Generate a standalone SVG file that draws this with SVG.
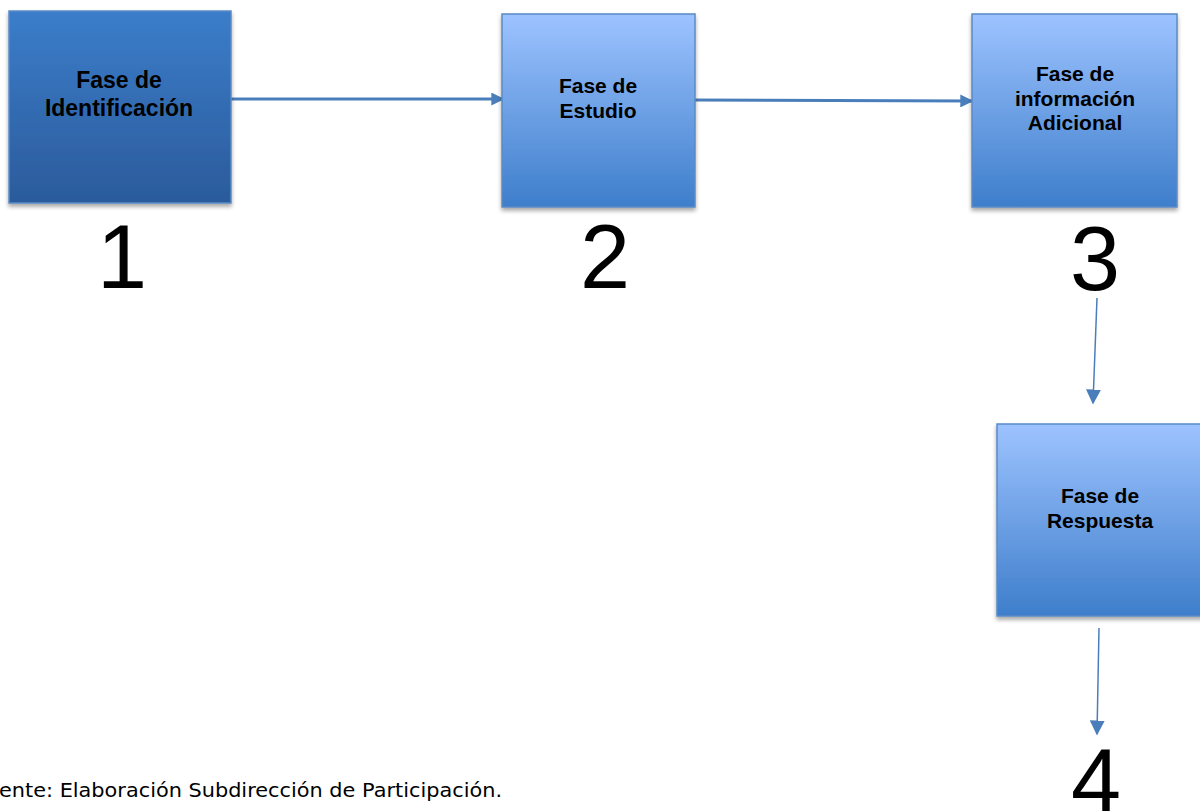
<svg xmlns="http://www.w3.org/2000/svg" width="1200" height="811" viewBox="0 0 1200 811">
<style>
.lbl{font-family:"Liberation Sans",Arial,sans-serif;font-weight:bold;fill:#000;text-anchor:middle}
.num{font-family:"Liberation Sans",Arial,sans-serif;font-size:90px;fill:#000;text-anchor:middle}
.box{stroke:#5a8ac6;stroke-width:1.5}
.thick{stroke:#4a7ebb;stroke-width:3;fill:none}
.thin{stroke:#4a7ebb;stroke-width:1.5;fill:none}
.foot{font-family:"DejaVu Sans","Noto Sans",sans-serif;font-size:19.5px;fill:#000}
</style>
<defs>
<linearGradient id="gDark" x1="0" y1="0" x2="0" y2="1">
<stop offset="0" stop-color="#3b7dca"/>
<stop offset="1" stop-color="#2b5b9b"/>
</linearGradient>
<linearGradient id="gLight" x1="0" y1="0" x2="0" y2="1">
<stop offset="0" stop-color="#9dc3ff"/>
<stop offset="1" stop-color="#3e7ecb"/>
</linearGradient>
<filter id="sh" x="-10%" y="-10%" width="125%" height="125%">
<feGaussianBlur in="SourceAlpha" stdDeviation="2"/>
<feOffset dx="0" dy="3" result="b"/>
<feComponentTransfer><feFuncA type="linear" slope="0.35"/></feComponentTransfer>
<feMerge><feMergeNode/><feMergeNode in="SourceGraphic"/></feMerge>
</filter>
<marker id="ah" viewBox="0 0 10 10" refX="9" refY="5" markerWidth="13" markerHeight="13" markerUnits="userSpaceOnUse" orient="auto">
<path d="M0,0 L10,5 L0,10 z" fill="#4a7ebb"/>
</marker>
<marker id="ah2" viewBox="0 0 10 10" refX="9" refY="5" markerWidth="15" markerHeight="15" markerUnits="userSpaceOnUse" orient="auto">
<path d="M0,0 L10,5 L0,10 z" fill="#4a7ebb"/>
</marker>
</defs>
<rect width="1200" height="811" fill="#fff"/>
<g id="connectors">
<line class="thick" x1="231" y1="99" x2="503" y2="99" marker-end="url(#ah)"/>
<line class="thick" x1="695" y1="100" x2="972" y2="101" marker-end="url(#ah)"/>
<line class="thin" x1="1097" y1="298" x2="1093" y2="403" marker-end="url(#ah2)"/>
<line class="thin" x1="1099" y1="628" x2="1097" y2="734" marker-end="url(#ah2)"/>
</g>
<g id="node1">
<rect class="box" x="9" y="11" width="222" height="192" fill="url(#gDark)" filter="url(#sh)"/>
<text class="lbl" font-size="23" x="119" y="88">Fase de</text>
<text class="lbl" font-size="23" x="119" y="116">Identificación</text>
<text class="num" x="122" y="288">1</text>
</g>
<g id="node2">
<rect class="box" x="502" y="14" width="193" height="193" fill="url(#gLight)" filter="url(#sh)"/>
<text class="lbl" font-size="21" x="598" y="93">Fase de</text>
<text class="lbl" font-size="21" x="598" y="118">Estudio</text>
<text class="num" x="605" y="288">2</text>
</g>
<g id="node3">
<rect class="box" x="972" y="14" width="205" height="193" fill="url(#gLight)" filter="url(#sh)"/>
<text class="lbl" font-size="21" x="1075" y="81">Fase de</text>
<text class="lbl" font-size="21" x="1075" y="106">información</text>
<text class="lbl" font-size="21" x="1075" y="130">Adicional</text>
<text class="num" x="1095" y="290">3</text>
</g>
<g id="node4">
<rect class="box" x="997" y="424" width="210" height="192" fill="url(#gLight)" filter="url(#sh)"/>
<text class="lbl" font-size="21" x="1100" y="503">Fase de</text>
<text class="lbl" font-size="21" x="1100" y="528">Respuesta</text>
<text class="num" x="1096" y="812">4</text>
</g>
<text class="foot" x="-1" y="797" textLength="503" lengthAdjust="spacingAndGlyphs">ente: Elaboración Subdirección de Participación.</text>
</svg>
